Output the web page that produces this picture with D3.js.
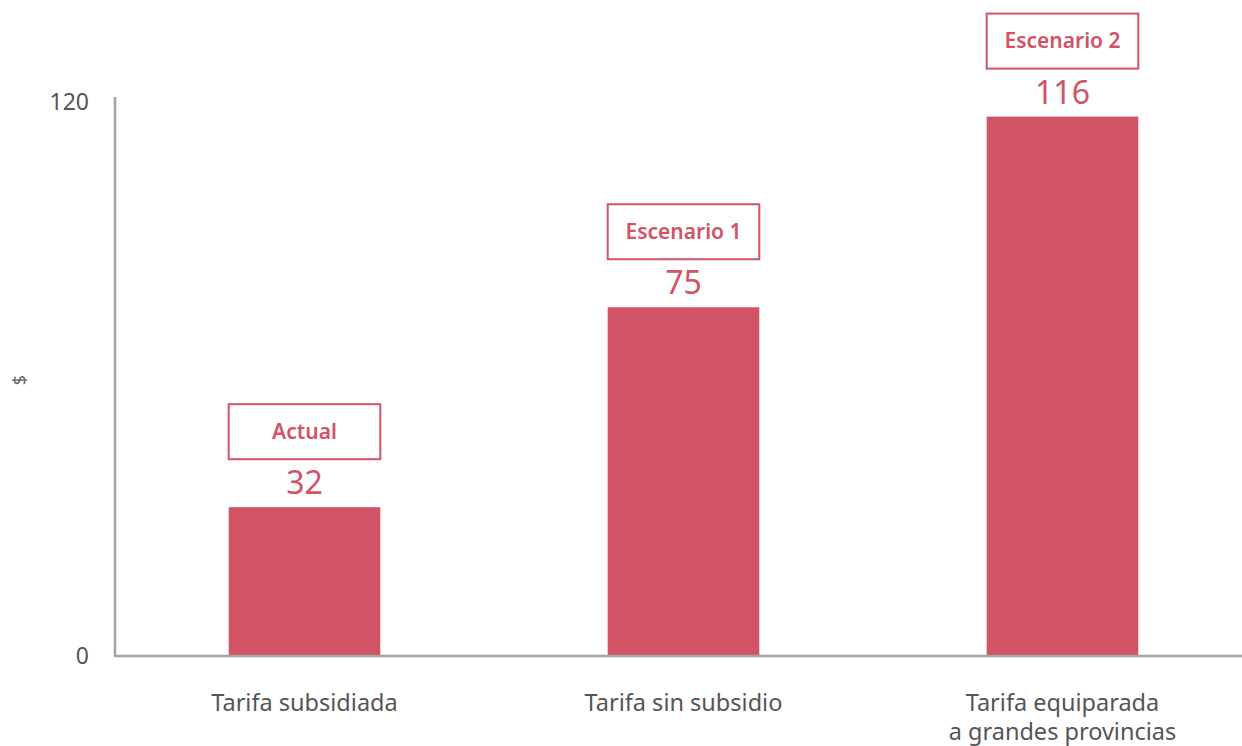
<!DOCTYPE html>
<html>
<head>
<meta charset="utf-8">
<script src="https://cdn.jsdelivr.net/npm/d3@7"></script>
<style>
  body { margin: 0; background: #fff; }
  svg { display: block; font-family: "Noto Sans", "Open Sans", sans-serif; }
</style>
</head>
<body>
<svg id="chart" width="1242" height="746"></svg>
<script>
// datos
const categories = ['Tarifa subsidiada', 'Tarifa sin subsidio', 'Tarifa equiparada\na grandes provincias'];
const values     = [32, 75, 116];
const scenarios  = ['Actual', 'Escenario 1', 'Escenario 2'];
const yTicks     = [0, 120];

const W = 1242, H = 746;
const m = { top: 98, right: -10, bottom: 90, left: 115 };
const red  = '#d15366';
const grey = '#a3a3a3';

const svg = d3.select('#chart');

const x = d3.scaleBand()
  .domain(categories)
  .range([m.left, W - m.right])
  .paddingInner(0.6)
  .paddingOuter(0.3);

const y = d3.scaleLinear()
  .domain([0, 120])
  .range([H - m.bottom, m.top]);

// barras
svg.selectAll('rect.bar')
  .data(values)
  .join('rect')
  .attr('class', 'bar')
  .attr('x', (d, i) => x(categories[i]))
  .attr('y', d => y(d))
  .attr('width', x.bandwidth())
  .attr('height', d => y(0) - y(d))
  .attr('fill', red);

// valores
svg.selectAll('text.val')
  .data(values)
  .join('text')
  .attr('class', 'val')
  .attr('x', (d, i) => x(categories[i]) + x.bandwidth() / 2)
  .attr('y', d => y(d) - 13)
  .attr('text-anchor', 'middle')
  .attr('font-size', 32)
  .attr('fill', red)
  .text(d => d);

// cajas de escenario
const boxH = 55;
const boxes = svg.selectAll('g.box')
  .data(values)
  .join('g')
  .attr('class', 'box')
  .attr('transform', (d, i) => `translate(${x(categories[i])},${y(d) - 48 - boxH})`);

boxes.append('rect')
  .attr('width', x.bandwidth())
  .attr('height', boxH)
  .attr('fill', '#fff')
  .attr('stroke', red)
  .attr('stroke-width', 2);

boxes.append('text')
  .attr('x', x.bandwidth() / 2)
  .attr('y', boxH / 2 + 7)
  .attr('text-anchor', 'middle')
  .attr('font-size', 21)
  .attr('font-weight', 600)
  .attr('fill', red)
  .text((d, i) => scenarios[i]);

// ejes
svg.append('line')
  .attr('x1', m.left).attr('x2', m.left)
  .attr('y1', y(120) - 1).attr('y2', y(0))
  .attr('stroke', grey).attr('stroke-width', 2.5);

svg.append('line')
  .attr('x1', m.left - 1).attr('x2', W)
  .attr('y1', y(0)).attr('y2', y(0))
  .attr('stroke', grey).attr('stroke-width', 2.5);

svg.selectAll('text.tick')
  .data(yTicks)
  .join('text')
  .attr('class', 'tick')
  .attr('x', 89)
  .attr('y', d => y(d) + (d ? 12 : 8))
  .attr('text-anchor', 'end')
  .attr('font-size', 23)
  .attr('fill', '#555')
  .text(d => d);

// etiquetas de categorías
svg.selectAll('text.cat')
  .data(categories)
  .join('text')
  .attr('class', 'cat')
  .attr('x', d => x(d) + x.bandwidth() / 2)
  .attr('y', H - m.bottom + 55)
  .attr('text-anchor', 'middle')
  .attr('font-size', 23.5)
  .attr('fill', '#555')
  .each(function (d) {
    d3.select(this).selectAll('tspan')
      .data(d.split('\n'))
      .join('tspan')
      .attr('x', x(d) + x.bandwidth() / 2)
      .attr('dy', (t, j) => j ? 29 : 0)
      .text(t => t);
  });

// título eje y
svg.append('text')
  .attr('transform', 'translate(26,380) rotate(-90)')
  .attr('text-anchor', 'middle')
  .attr('font-size', 18)
  .attr('fill', '#666')
  .text('$');
</script>
</body>
</html>
